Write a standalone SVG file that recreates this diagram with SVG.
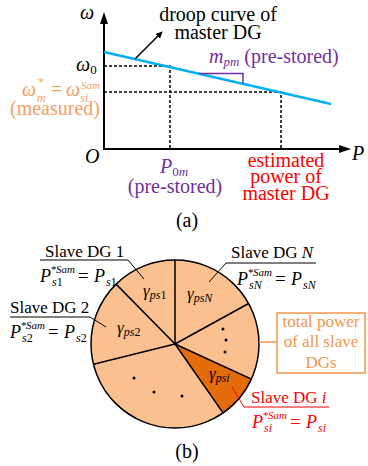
<svg xmlns="http://www.w3.org/2000/svg" width="368" height="466" viewBox="0 0 368 466" font-family="'Liberation Serif', 'Times New Roman', 'DejaVu Serif', serif">
<style>
text, tspan { font-family: "Liberation Serif", "Times New Roman", "DejaVu Serif", serif; }
.f20{font-size:20px}
.f17{font-size:17px}
.it{font-style:italic}
.dash{stroke:#000;stroke-width:1.5;stroke-dasharray:3 2;fill:none}
.lead{stroke:#000;stroke-width:1;fill:none}
.slice{stroke:#000;stroke-width:1.5;fill:none}
.purple{fill:#7030A0}
.red{fill:#FF0000}
.orange{fill:#F7964A}
.meas{fill:#F8A062}
</style>
<defs>
<marker id="ah" viewBox="0 0 10 10" refX="9" refY="5" markerWidth="7" markerHeight="7" markerUnits="userSpaceOnUse" orient="auto">
<path d="M0,0 L10,5 L0,10 Z" fill="#000"/>
</marker>
<g id="formula">
<text x="0" y="0" font-size="18" class="it">P</text>
<text x="11" y="-9" font-size="11">*</text>
<text x="16" y="-9" font-size="11" class="it">Sam</text>
<text x="38" y="0" font-size="19">=</text>
<text x="54" y="0" font-size="18" class="it">P</text>
</g>
</defs>

<!-- (a) droop graph -->
<g id="axes">
<polyline points="104,22 104,149 341,149" fill="none" stroke="#000" stroke-width="2"/>
<polygon points="104,12 100,24 108,24" fill="#000"/>
<polygon points="351,149 339,145 339,153" fill="#000"/>
<text x="80" y="19" class="f20 it">ω</text>
<text x="85" y="163" class="f20 it">O</text>
<text x="352" y="160" class="f20 it">P</text>
</g>
<g id="guides">
<polyline class="dash" points="104,66 170,66 170,149"/>
<polyline class="dash" points="104,92 281,92 281,149"/>
</g>
<g id="droop-curve">
<line x1="104" y1="52" x2="331" y2="104" stroke="#00B0F0" stroke-width="2.5"/>
</g>
<g id="slope">
<polyline points="199,73.5 243,73.5 243,83.8" fill="none" stroke="#7030A0" stroke-width="1.5"/>
<text x="209" y="63" class="f20 purple"><tspan class="it">m</tspan><tspan class="it" font-size="13" dy="3">pm</tspan><tspan dy="-3"> (pre-stored)</tspan></text>
</g>
<g id="droop-label">
<text x="218" y="21" class="f20" text-anchor="middle">droop curve of</text>
<text x="218" y="39" class="f20" text-anchor="middle">master DG</text>
</g>
<g id="omega0">
<text x="76" y="71" class="f20 it">ω<tspan font-style="normal" font-size="13" dy="3">0</tspan></text>
</g>
<g id="omega-measured">
<text x="22" y="96" class="f20 it meas">ω</text>
<text x="38" y="86" font-size="12" class="meas">*</text>
<text x="37" y="102" font-size="12" class="it meas">m</text>
<text x="51" y="96" class="f20 meas">=</text>
<text x="66" y="96" class="f20 it meas">ω</text>
<text x="81" y="89" font-size="11" class="it meas">Sam</text>
<text x="80" y="102" font-size="12" class="it meas">si</text>
<text x="55" y="115" class="f20 meas" text-anchor="middle">(measured)</text>
</g>
<g id="p0m">
<text x="160" y="173" class="f20 purple"><tspan class="it">P</tspan><tspan font-size="13" dy="3">0</tspan><tspan font-size="13" class="it">m</tspan></text>
<text x="175" y="193" class="f20 purple" text-anchor="middle">(pre-stored)</text>
</g>
<g id="estimated-power">
<text x="286" y="167" class="f20 red" text-anchor="middle">estimated</text>
<text x="286" y="183" class="f20 red" text-anchor="middle">power of</text>
<text x="286" y="200" class="f20 red" text-anchor="middle">master DG</text>
</g>
<text x="187" y="227" class="f20" text-anchor="middle">(a)</text>

<!-- (b) pie -->
<g id="pie">
<circle cx="175" cy="344" r="84" fill="#FAC090" stroke="#000" stroke-width="1.5"/>
<path d="M175,344 L251.4,379 A84,84 0 0 1 223.1,412.9 Z" fill="#E46C0A" stroke="#000" stroke-width="1.5"/>
<line class="slice" x1="175" y1="344" x2="175" y2="260"/>
<line class="slice" x1="175" y1="344" x2="248.6" y2="303.5"/>
<line class="slice" x1="175" y1="344" x2="93.5" y2="364.3"/>
<line class="slice" x1="175" y1="344" x2="116.1" y2="284.1"/>
<g fill="#000">
<circle cx="223" cy="329" r="1.5"/><circle cx="226" cy="340" r="1.5"/><circle cx="225" cy="352" r="1.5"/>
<circle cx="134" cy="378" r="1.5"/><circle cx="154" cy="392" r="1.5"/><circle cx="182" cy="396" r="1.5"/>
</g>
<text x="143" y="296" class="f17 it">γ<tspan font-size="12" dy="3">ps</tspan><tspan font-size="12" font-style="normal">1</tspan></text>
<text x="117" y="333" class="f17 it">γ<tspan font-size="12" dy="3">ps</tspan><tspan font-size="12" font-style="normal">2</tspan></text>
<text x="187" y="299" class="f17 it">γ<tspan font-size="12" dy="3">psN</tspan></text>
<text x="209" y="379" class="f17 it">γ<tspan font-size="12" dy="3">psi</tspan></text>
</g>

<g id="connectors">
<polyline class="lead" points="40,260 128,260 144,279"/>
<polyline class="lead" points="10,317 90,317 106,327"/>
<polyline class="lead" points="316,263 226,263 209,282"/>
<polyline points="329,407 244,407 232,387" fill="none" stroke="#FF0000" stroke-width="1"/>
<line x1="259" y1="342" x2="277" y2="342" stroke="#F7964A" stroke-width="1.5"/>
<line x1="135" y1="59" x2="162" y2="32" stroke="#000" stroke-width="1.5" marker-end="url(#ah)"/>
</g>

<g id="slave1">
<text x="45" y="257" class="f17">Slave DG 1</text>
<use href="#formula" transform="translate(40,282)"/>
<text x="52" y="286" font-size="12" class="it">s<tspan font-style="normal">1</tspan></text>
<text x="106" y="286" font-size="12" class="it">s<tspan font-style="normal">1</tspan></text>
</g>
<g id="slave2">
<text x="10" y="313" class="f17">Slave DG 2</text>
<use href="#formula" transform="translate(10,338)"/>
<text x="22" y="342" font-size="12" class="it">s<tspan font-style="normal">2</tspan></text>
<text x="76" y="342" font-size="12" class="it">s<tspan font-style="normal">2</tspan></text>
</g>
<g id="slaveN">
<text x="231" y="258" class="f17">Slave DG <tspan class="it">N</tspan></text>
<use href="#formula" transform="translate(237,285)"/>
<text x="249" y="289" font-size="12" class="it">sN</text>
<text x="303" y="289" font-size="12" class="it">sN</text>
</g>
<g id="slavei" fill="#FF0000">
<text x="251" y="403" class="f17 red">Slave DG <tspan class="it">i</tspan></text>
<use href="#formula" transform="translate(252,428)"/>
<text x="264" y="432" font-size="12" class="it red">si</text>
<text x="318" y="432" font-size="12" class="it red">si</text>
</g>
<g id="total-power">
<rect x="277" y="313" width="88" height="60" fill="#fff" stroke="#F7964A" stroke-width="1.5"/>
<text x="321" y="327" class="f17 orange" text-anchor="middle">total power</text>
<text x="321" y="347" class="f17 orange" text-anchor="middle">of all slave</text>
<text x="321" y="368" class="f17 orange" text-anchor="middle">DGs</text>
</g>
<text x="187" y="458" class="f20" text-anchor="middle">(b)</text>
</svg>
